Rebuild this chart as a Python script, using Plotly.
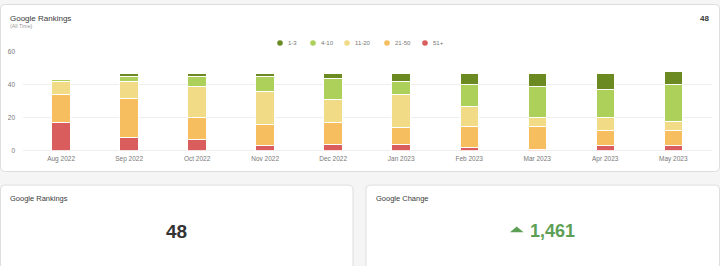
import plotly.graph_objects as go

W, H = 720, 266

months = ["Aug 2022", "Sep 2022", "Oct 2022", "Nov 2022", "Dec 2022",
          "Jan 2023", "Feb 2023", "Mar 2023", "Apr 2023", "May 2023"]
rank_51_plus = [17, 8, 7, 3, 4, 4, 2, 1, 3, 3]
rank_21_50 = [17, 24, 13, 13, 13, 10, 13, 14, 9, 9]
rank_11_20 = [8, 10, 19, 20, 14, 20, 12, 5, 8, 6]
rank_4_10 = [1, 3, 6, 9, 13, 8, 13, 19, 17, 22]
rank_1_3 = [1, 2, 2, 2, 3, 5, 7, 8, 10, 8]

series_names = ["1-3", "4-10", "11-20", "21-50", "51+"]
series_colors = ["#6b8b22", "#acd05a", "#f2db86", "#f7be60", "#d95d5c"]
y_ticks = [0, 20, 40, 60]

total_rankings = "48"
google_change = "1,461"

FONT = "Liberation Sans, Arial, Helvetica, sans-serif"


def px(x):
    return x / W


def py(y):
    return 1 - y / H


def rrect(x0, y0, x1, y1, r=4):
    p = (f"M {px(x0 + r)} {py(y0)} L {px(x1 - r)} {py(y0)} "
         f"Q {px(x1)} {py(y0)} {px(x1)} {py(y0 + r)} "
         f"L {px(x1)} {py(y1 - r)} Q {px(x1)} {py(y1)} {px(x1 - r)} {py(y1)} "
         f"L {px(x0 + r)} {py(y1)} Q {px(x0)} {py(y1)} {px(x0)} {py(y1 - r)} "
         f"L {px(x0)} {py(y0 + r)} Q {px(x0)} {py(y0)} {px(x0 + r)} {py(y0)} Z")
    return dict(type="path", path=p, xref="paper", yref="paper",
                fillcolor="#ffffff", line=dict(color="#dedede", width=1),
                layer="below")


fig = go.Figure()
stack = [("51+", rank_51_plus), ("21-50", rank_21_50), ("11-20", rank_11_20),
         ("4-10", rank_4_10), ("1-3", rank_1_3)]
cmap = dict(zip(series_names, series_colors))
for name, vals in stack:
    fig.add_trace(go.Bar(
        x=months, y=vals, name=name, width=0.27,
        marker=dict(color=cmap[name], line=dict(color="#ffffff", width=1)),
        showlegend=False,
    ))

shapes = [
    rrect(0.5, 0.5, 719.5, 172),
    rrect(0.5, 186, 353, 272),
    rrect(366, 186, 719.5, 272),
    # up triangle for change indicator
    dict(type="path", xref="paper", yref="paper",
         path=f"M {px(510)} {py(234.5)} L {px(523.5)} {py(234.5)} L {px(516.75)} {py(228.5)} Z",
         fillcolor="#5e9f56", line=dict(width=0)),
]

annotations = [
    dict(text="Google Rankings", x=px(8), y=py(14.5), xanchor="left", yanchor="middle",
         font=dict(size=8, color="#3a3a3a", family=FONT)),
    dict(text="(All Time)", x=px(8), y=py(23), xanchor="left", yanchor="middle",
         font=dict(size=5.3, color="#999999", family=FONT)),
    dict(text=f"<b>{total_rankings}</b>", x=px(711), y=py(14.5), xanchor="right", yanchor="middle",
         font=dict(size=8, color="#333333", family=FONT)),
    dict(text="Google Rankings", x=px(8), y=py(200), xanchor="left", yanchor="middle",
         font=dict(size=7.5, color="#3a3a3a", family=FONT)),
    dict(text="Google Change", x=px(374), y=py(200), xanchor="left", yanchor="middle",
         font=dict(size=7.5, color="#3a3a3a", family=FONT)),
    dict(text=f"<b>{total_rankings}</b>", x=px(176), y=py(233.5), xanchor="center", yanchor="middle",
         font=dict(size=19, color="#333333", family=FONT)),
    dict(text=f"<b>{google_change}</b>", x=px(528), y=py(233.5), xanchor="left", yanchor="middle",
         font=dict(size=18, color="#5e9f56", family=FONT)),
]

# custom legend
dot_x = [280, 313, 347, 387, 425]
for name, color, dx in zip(series_names, series_colors, dot_x):
    shapes.append(dict(type="circle", xref="paper", yref="paper",
                       x0=px(dx - 2.8), x1=px(dx + 2.8), y0=py(40 + 2.8), y1=py(40 - 2.8),
                       fillcolor=color, line=dict(width=0)))
    annotations.append(dict(text=name, x=px(dx + 6), y=py(40), xanchor="left", yanchor="middle",
                            font=dict(size=6, color="#777777", family=FONT)))

for a in annotations:
    a.update(xref="paper", yref="paper", showarrow=False)

fig.update_layout(
    width=W, height=H,
    margin=dict(l=0, r=0, t=0, b=0),
    paper_bgcolor="#f5f5f5",
    plot_bgcolor="rgba(0,0,0,0)",
    barmode="stack",
    font=dict(family=FONT),
    shapes=shapes,
    annotations=annotations,
    xaxis=dict(domain=[px(23), px(712)], range=[-0.56, 9.57],
               showgrid=False, zeroline=False, showline=False, ticks="",
               tickfont=dict(size=6.5, color="#777777"), ticklabelstandoff=3,
               fixedrange=True),
    yaxis=dict(domain=[py(150.7), py(49.3)], range=[0, 60], tickvals=y_ticks,
               showgrid=True, gridcolor="#eeeeee", gridwidth=1,
               zeroline=True, zerolinecolor="#eeeeee", zerolinewidth=1,
               showline=False, ticks="", ticklabelstandoff=7,
               tickfont=dict(size=6.5, color="#777777"), fixedrange=True),
)

fig.write_html("out.html", config={"displayModeBar": False})
